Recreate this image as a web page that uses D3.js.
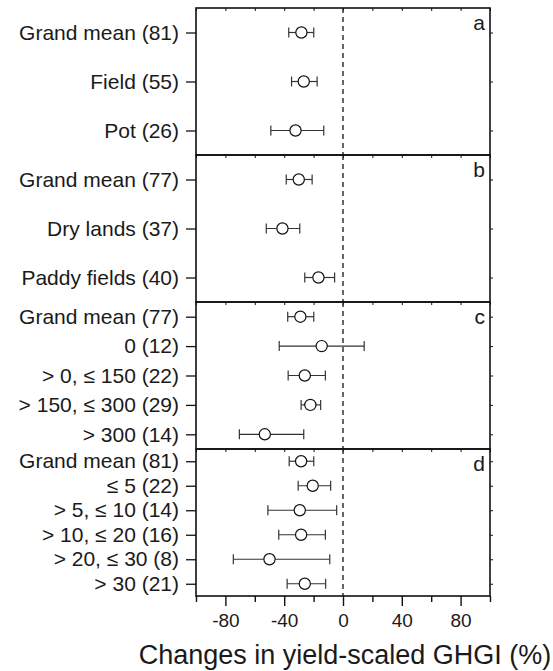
<!DOCTYPE html>
<html>
<head>
<meta charset="utf-8">
<script src="https://cdn.jsdelivr.net/npm/d3@7.9.0/dist/d3.min.js"></script>
<style>
  body { margin: 0; background: #fff; }
  svg { display: block; font-family: "Liberation Sans", Arial, sans-serif; }
</style>
</head>
<body>
<div id="chart"></div>
<script>
// ---------- Data ----------
const panelLetters = ['a', 'b', 'c', 'd'];

const labelsA = ['Grand mean (81)', 'Field (55)', 'Pot (26)'];
const meanA = [-28.3, -26.7, -32.3];
const lowA = [-36.9, -35.0, -49.1];
const highA = [-19.9, -17.6, -13.1];

const labelsB = ['Grand mean (77)', 'Dry lands (37)', 'Paddy fields (40)'];
const meanB = [-30.1, -41.2, -16.7];
const lowB = [-38.6, -52.2, -26.0];
const highB = [-21.0, -29.4, -5.7];

const labelsC = ['Grand mean (77)', '0 (12)', '> 0, ≤ 150 (22)', '> 150, ≤ 300 (29)', '> 300 (14)'];
const meanC = [-29.0, -14.5, -26.0, -22.2, -53.2];
const lowC = [-37.6, -43.4, -37.3, -28.5, -70.5];
const highC = [-19.9, 14.4, -12.0, -15.2, -26.7];

const labelsD = ['Grand mean (81)', '≤ 5 (22)', '> 5, ≤ 10 (14)', '> 10, ≤ 20 (16)', '> 20, ≤ 30 (8)', '> 30 (21)'];
const meanD = [-28.5, -20.6, -29.4, -28.5, -50.0, -26.0];
const lowD = [-36.6, -30.5, -51.1, -43.7, -74.6, -38.0];
const highD = [-19.9, -8.4, -4.3, -12.0, -9.0, -11.8];

const xTicks = [-80, -40, 0, 40, 80];
const xMinorTicks = [-100, -60, -20, 20, 60, 100];
const xTitle = 'Changes in yield-scaled GHGI (%)';

// build panel rows from the arrays
const panels = [
  [labelsA, meanA, lowA, highA],
  [labelsB, meanB, lowB, highB],
  [labelsC, meanC, lowC, highC],
  [labelsD, meanD, lowD, highD],
].map(([labels, mean, low, high], i) => ({
  letter: panelLetters[i],
  rows: labels.map((label, j) => ({ label, mean: mean[j], low: low[j], high: high[j] })),
}));

// ---------- Layout ----------
const width = 553, height = 671;
const plot = { left: 196, right: 490, top: 8, bottom: 596 };
const panelH = (plot.bottom - plot.top) / panels.length;
const FONT = '"Liberation Sans", Arial, sans-serif';

const svg = d3.select('#chart').append('svg')
  .attr('width', width)
  .attr('height', height);

const x = d3.scaleLinear().domain([-100, 100]).range([plot.left, plot.right]);
const allTicks = d3.range(-100, 101, 20);

panels.forEach((p, i) => {
  const y0 = plot.top + i * panelH;
  const y1 = y0 + panelH;
  const y = d3.scalePoint()
    .domain(p.rows.map((d) => d.label))
    .range([y0, y1])
    .padding(0.5);

  const g = svg.append('g').attr('class', 'panel');

  // left axis with outward ticks + labels
  g.append('g')
    .attr('transform', `translate(${plot.left},0)`)
    .call(d3.axisLeft(y).tickSize(10).tickPadding(7))
    .call((a) => a.select('.domain').remove())
    .call((a) => a.selectAll('line').attr('stroke', '#111').attr('stroke-width', 1.3))
    .call((a) => a.selectAll('text')
      .attr('fill', '#1a1a1a')
      .style('font-size', '21px')
      .style('font-family', FONT));

  // right inward ticks
  g.append('g')
    .attr('transform', `translate(${plot.right},0)`)
    .call(d3.axisLeft(y).tickSize(3).tickFormat(''))
    .call((a) => a.select('.domain').remove())
    .call((a) => a.selectAll('line').attr('stroke', '#111').attr('transform', 'translate(3,0)').attr('x2', -3));

  // top inward minor ticks
  g.append('g')
    .attr('transform', `translate(0,${y0})`)
    .call(d3.axisBottom(x).tickValues(allTicks).tickSize(3).tickFormat(''))
    .call((a) => a.select('.domain').remove())
    .call((a) => a.selectAll('line').attr('stroke', '#111'));

  // zero reference
  g.append('line')
    .attr('x1', x(0)).attr('x2', x(0))
    .attr('y1', y0).attr('y2', y1)
    .attr('stroke', '#333')
    .attr('stroke-width', 1.5)
    .attr('stroke-dasharray', '5,4');

  // error bars
  const rows = g.selectAll('.row').data(p.rows).join('g').attr('class', 'row')
    .attr('transform', (d) => `translate(0,${y(d.label)})`);

  rows.append('line')
    .attr('x1', (d) => x(d.low)).attr('x2', (d) => x(d.high))
    .attr('stroke', '#333').attr('stroke-width', 1.2);
  rows.selectAll('.cap').data((d) => [d.low, d.high]).join('line')
    .attr('class', 'cap')
    .attr('x1', (v) => x(v)).attr('x2', (v) => x(v))
    .attr('y1', -5).attr('y2', 5)
    .attr('stroke', '#333').attr('stroke-width', 1.2);
  rows.append('circle')
    .attr('cx', (d) => x(d.mean))
    .attr('r', 5.6)
    .attr('fill', '#fff')
    .attr('stroke', '#111')
    .attr('stroke-width', 1.2);

  // panel letter
  g.append('text')
    .attr('x', plot.right - 5)
    .attr('y', y0 + 22)
    .attr('text-anchor', 'end')
    .attr('fill', '#1a1a1a')
    .style('font-size', '21px')
    .text(p.letter);

  // panel frame
  g.append('rect')
    .attr('x', plot.left).attr('y', y0)
    .attr('width', plot.right - plot.left).attr('height', panelH)
    .attr('fill', 'none')
    .attr('stroke', '#111')
    .attr('stroke-width', 1.6);
});

// bottom axis: major ticks with labels, minor ticks without
svg.append('g')
  .attr('transform', `translate(0,${plot.bottom})`)
  .call(d3.axisBottom(x).tickValues(xMinorTicks).tickSize(6).tickFormat(''))
  .call((a) => a.select('.domain').remove())
  .call((a) => a.selectAll('line').attr('stroke', '#111').attr('stroke-width', 1.4));

svg.append('g')
  .attr('transform', `translate(0,${plot.bottom})`)
  .call(d3.axisBottom(x).tickValues(xTicks).tickSize(10).tickPadding(8).tickFormat((d) => String(d)))
  .call((a) => a.select('.domain').remove())
  .call((a) => a.selectAll('line').attr('stroke', '#111').attr('stroke-width', 1.4))
  .call((a) => a.selectAll('text')
    .attr('fill', '#1a1a1a')
    .style('font-size', '19px')
    .style('font-family', FONT));

svg.append('text')
  .attr('x', x(0) + 2)
  .attr('y', 664)
  .attr('text-anchor', 'middle')
  .attr('fill', '#1a1a1a')
  .style('font-size', '27px')
  .text(xTitle);
</script>
</body>
</html>
